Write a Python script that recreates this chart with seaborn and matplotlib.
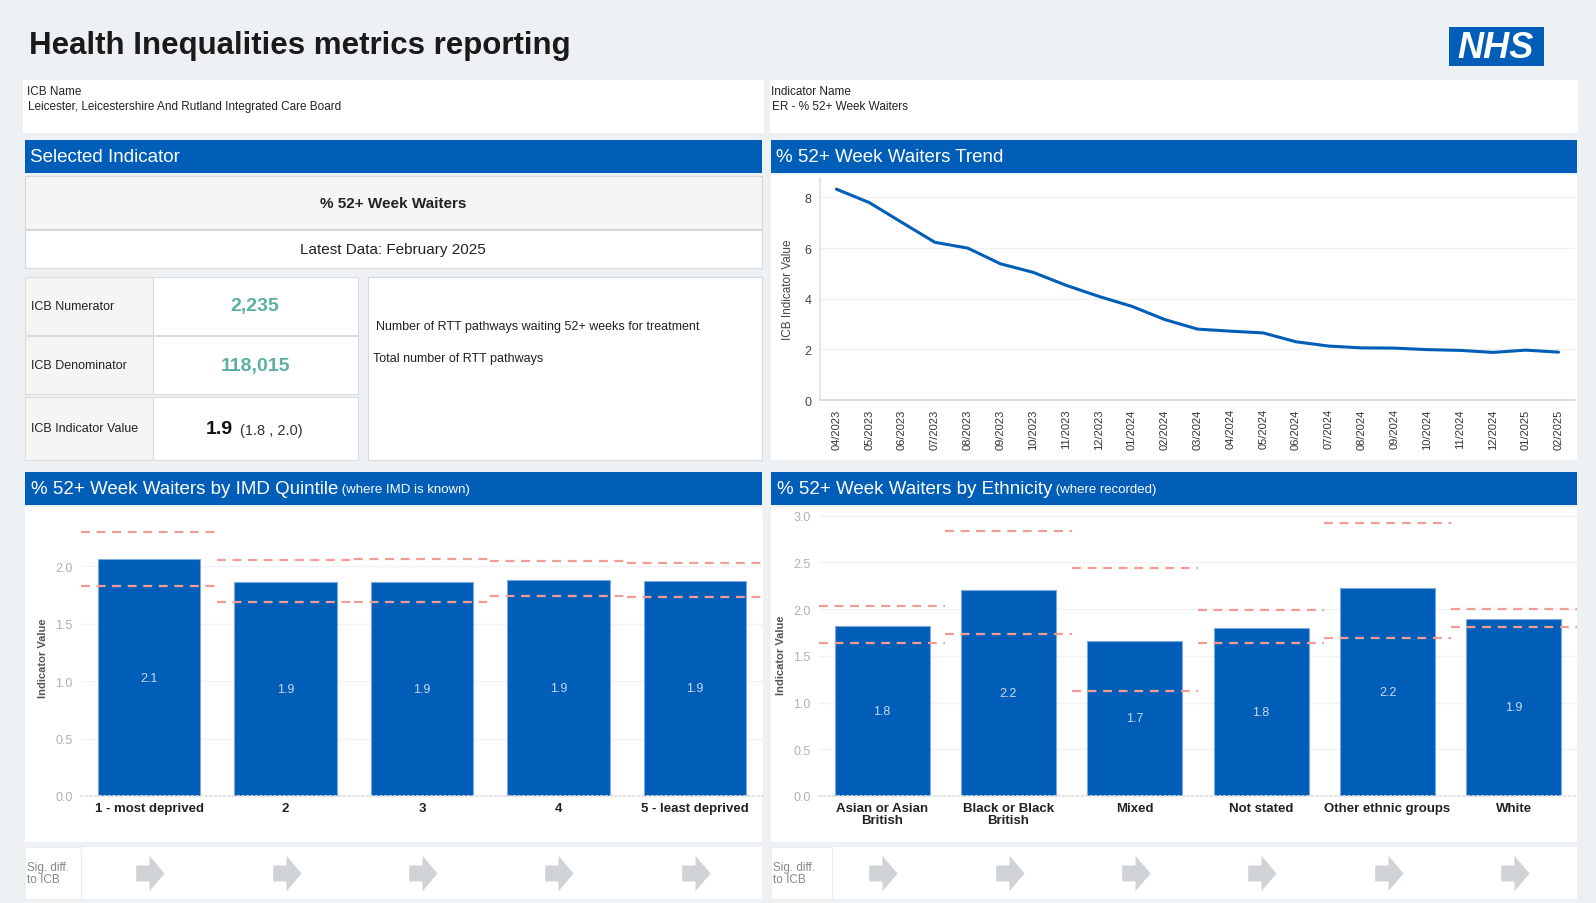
import numpy as np
import pandas as pd
import matplotlib
matplotlib.use('Agg')
import matplotlib.pyplot as plt
from matplotlib.patches import Rectangle
from matplotlib.path import Path
from matplotlib.text import Annotation
import seaborn as sns

# ---- data ----
months = ['04/2023', '05/2023', '06/2023', '07/2023', '08/2023', '09/2023', '10/2023',
          '11/2023', '12/2023', '01/2024', '02/2024', '03/2024', '04/2024', '05/2024',
          '06/2024', '07/2024', '08/2024', '09/2024', '10/2024', '11/2024', '12/2024',
          '01/2025', '02/2025']
trend_values = [8.33, 7.80, 7.01, 6.23, 6.00, 5.38, 5.04, 4.53, 4.09, 3.70, 3.18, 2.80,
                2.72, 2.65, 2.30, 2.13, 2.06, 2.05, 1.99, 1.96, 1.88, 1.97, 1.89]

imd_groups = ['1 - most deprived', '2', '3', '4', '5 - least deprived']
imd_values = [2.06, 1.865, 1.865, 1.88, 1.875]
imd_lower = [1.83, 1.686, 1.686, 1.74, 1.73]
imd_upper = [2.30, 2.056, 2.06, 2.05, 2.03]

eth_groups = ['Asian or Asian British', 'Black or Black British', 'Mixed', 'Not stated',
              'Other ethnic groups', 'White']
eth_ticklabels = ['Asian or Asian\nBritish', 'Black or Black\nBritish', 'Mixed', 'Not stated',
                  'Other ethnic groups', 'White']
eth_values = [1.82, 2.21, 1.66, 1.80, 2.23, 1.90]
eth_lower = [1.64, 1.73, 1.125, 1.64, 1.69, 1.81]
eth_upper = [2.03, 2.84, 2.44, 1.99, 2.92, 2.00]

icb_name = 'Leicester, Leicestershire And Rutland Integrated Care Board'
indicator_name = 'ER - % 52+ Week Waiters'
numerator = '2,235'
denominator = '118,015'
icb_value = '1.9'
icb_ci = '(1.8 , 2.0)'

# ---- style ----
sns.set_theme(style='white')
plt.rcParams['font.family'] = ['Liberation Sans', 'DejaVu Sans']

BLUE = '#005EB8'
BG = '#eef1f3'
TEAL = '#5cb0a2'
RED = '#f29c97'
GREY_ARROW = '#cfd3d6'

W, H = 1596, 904
fig = plt.figure(figsize=(W / 100, H / 100), dpi=100)
fig.patch.set_facecolor(BG)


def box(x0, y0, x1, y1, color='white', edge='none'):
    fig.add_artist(Rectangle((x0 / W, 1 - y1 / H), (x1 - x0) / W, (y1 - y0) / H,
                             transform=fig.transFigure, facecolor=color,
                             edgecolor=edge, linewidth=0.8, zorder=-2))


def ftext(x, y, s, **kw):
    return fig.text(x / W, 1 - y / H, s, **kw)


def axes_px(x0, y0, x1, y1):
    return fig.add_axes([x0 / W, 1 - y1 / H, (x1 - x0) / W, (y1 - y0) / H])


# ---- header ----
ftext(29, 46, 'Health Inequalities metrics reporting', fontsize=22.5, fontweight='bold',
      color='#1a1a1a', va='center')
box(1449, 28, 1544, 67, BLUE)
ftext(1496, 48, 'NHS', fontsize=26, fontweight='bold', fontstyle='italic', color='white',
      ha='center', va='center')

box(23, 81, 764, 134)
ftext(27, 92, 'ICB Name', fontsize=8.5, color='#222', va='center')
ftext(28, 107, icb_name, fontsize=8.5, color='#222', va='center')
box(770, 81, 1578, 134)
ftext(771, 92, 'Indicator Name', fontsize=8.5, color='#222', va='center')
ftext(772, 107, indicator_name, fontsize=8.5, color='#222', va='center')

# ---- section headers ----
box(25, 141, 762, 174, BLUE)
ftext(30, 157.5, 'Selected Indicator', fontsize=13.5, color='white', va='center')
box(771, 141, 1577, 174, BLUE)
ftext(776, 157.5, '% 52+ Week Waiters Trend', fontsize=13.5, color='white', va='center')

for x0, x1, title, sub in [(25, 762, '% 52+ Week Waiters by IMD Quintile', '(where IMD is known)'),
                           (771, 1577, '% 52+ Week Waiters by Ethnicity', '(where recorded)')]:
    box(x0, 473, x1, 506, BLUE)
    t = ftext(x0 + 6, 490, title, fontsize=13.5, color='white', va='center')
    fig.add_artist(Annotation(' ' + sub, xy=(1, 0.5), xycoords=t, va='center', ha='left',
                              fontsize=9.5, color='white'))

# ---- selected indicator panel ----
box(25, 177, 762, 230, '#f6f5f3', '#d8d8d8')
ftext(393, 204, '% 52+ Week Waiters', fontsize=11, fontweight='bold', color='#222',
      ha='center', va='center')
box(25, 231, 762, 269, 'white', '#d8d8d8')
ftext(393, 250, 'Latest Data: February 2025', fontsize=11, color='#222', ha='center',
      va='center')

rows = [(278, 336, 'ICB Numerator'), (337, 395, 'ICB Denominator'),
        (398, 461, 'ICB Indicator Value')]
for y0, y1, lab in rows:
    box(25, y0, 153, y1, '#f6f5f3', '#dcdcdc')
    box(153, y0, 358, y1, 'white', '#dcdcdc')
    ftext(31, (y0 + y1) / 2, lab, fontsize=9, color='#222', va='center')
ftext(255, 307, numerator, fontsize=14, fontweight='bold', color=TEAL, ha='center',
      va='center')
ftext(256, 366, denominator, fontsize=14, fontweight='bold', color=TEAL, ha='center',
      va='center')
ftext(233, 430, icb_value, fontsize=14, fontweight='bold', color='#111', ha='right',
      va='center')
ftext(240, 431, icb_ci, fontsize=10.5, color='#333', ha='left', va='center')

box(368, 278, 762, 461, 'white', '#d8d8d8')
ftext(376, 327, 'Number of RTT pathways waiting 52+ weeks for treatment', fontsize=9,
      color='#222', va='center')
ftext(373, 359, 'Total number of RTT pathways', fontsize=9, color='#222', va='center')

# ---- trend chart ----
box(771, 176, 1577, 461)
ax = axes_px(820, 179, 1575, 401)
ax.set_facecolor('white')
trend = pd.DataFrame({'month': months, 'value': trend_values})
trend['pos'] = np.arange(len(trend))
sns.lineplot(data=trend, x='pos', y='value', color=BLUE, linewidth=2.2, ax=ax)
ax.set_xlim(-0.5, len(months) - 0.5)
ax.set_ylim(0, 8.77)
ax.set_yticks([0, 2, 4, 6, 8])
ax.set_xticks(trend['pos'])
ax.set_xticklabels(months, rotation=90, fontsize=8, color='#333')
ax.tick_params(axis='y', labelsize=9, colors='#444', length=0, pad=6)
ax.tick_params(axis='x', length=0, pad=6)
ax.set_xlabel('')
ax.set_ylabel('ICB Indicator Value', fontsize=8.5, color='#444', labelpad=8)
ax.grid(axis='y', color='#f0f0f0', linewidth=1)
for s in ['top', 'right']:
    ax.spines[s].set_visible(False)
ax.spines['left'].set_color('#e3e3e3')
ax.spines['bottom'].set_color('#d6d6d6')


# ---- bar charts ----
def bar_panel(x0, x1, ax_x0, ax_x1, ax_top, ylim, yticks, groups, ticklabels, values,
              lower, upper, ylabel_x):
    box(x0, 508, x1, 843)
    bax = axes_px(ax_x0, ax_top, ax_x1, 797)
    df = pd.DataFrame({'group': groups, 'value': values})
    sns.barplot(data=df, x='group', y='value', color=BLUE, width=0.75, saturation=1,
                errorbar=None, ax=bax)
    for p in bax.patches:
        p.set_edgecolor('#7fa9dc')
        p.set_linewidth(0.8)
    for i, v in enumerate(values):
        bax.text(i, v / 2, f'{v:.1f}', ha='center', va='center', fontsize=9,
                 color='#c9d8ee')
    pos = np.arange(len(groups))
    bax.hlines(lower, pos - 0.5, pos + 0.5, colors=RED, linestyles=(0, (4, 3)),
               linewidth=1.6)
    bax.hlines(upper, pos - 0.5, pos + 0.5, colors=RED, linestyles=(0, (4, 3)),
               linewidth=1.6)
    bax.set_xlim(-0.5, len(groups) - 0.5)
    bax.set_ylim(*ylim)
    bax.set_yticks(yticks)
    bax.set_yticklabels([f'{t:.1f}' for t in yticks])
    bax.set_xticks(pos)
    bax.set_xticklabels(ticklabels, fontsize=9.5, fontweight='bold', color='#222',
                        linespacing=1.1)
    bax.tick_params(axis='y', labelsize=9, colors='#b0b0b0', length=0, pad=6)
    bax.tick_params(axis='x', length=0, pad=4)
    bax.set_xlabel('')
    bax.set_ylabel('')
    bax.grid(axis='y', color='#f3f3f3', linewidth=1)
    bax.set_axisbelow(True)
    for s in ['top', 'right', 'left']:
        bax.spines[s].set_visible(False)
    bax.spines['bottom'].set_color('#e0e0e0')
    bax.spines['bottom'].set_linestyle(':')
    ftext(ylabel_x, (ax_top + 797) / 2, 'Indicator Value', fontsize=8, fontweight='bold',
          color='#555', rotation=90, ha='center', va='center')
    return bax


bar_panel(25, 762, 81, 763, 519, (0, 2.42), [0, 0.5, 1.0, 1.5, 2.0], imd_groups,
          imd_groups, imd_values, imd_lower, imd_upper, 43)
bar_panel(771, 1577, 819, 1577, 513, (0, 3.04), [0, 0.5, 1.0, 1.5, 2.0, 2.5, 3.0],
          eth_groups, eth_ticklabels, eth_values, eth_lower, eth_upper, 781)

# ---- significance strips ----
arrow = Path([(-0.75, -0.45), (0.0, -0.45), (0.0, -1.0), (0.85, 0.0), (0.0, 1.0),
              (0.0, 0.45), (-0.75, 0.45), (-0.75, -0.45)])
for x0, lab_x1, ax_x0, ax_x1, x1, groups in [(25, 81, 81, 763, 762, imd_groups),
                                              (771, 832, 819, 1577, 1577, eth_groups)]:
    box(x0, 848, x1, 900)
    box(x0, 848, lab_x1, 900, 'white', '#eeeeee')
    ftext(x0 + 2, 874, 'Sig. diff.\nto ICB', fontsize=8.5, color='#888', va='center',
          linespacing=1.0)
    sax = axes_px(ax_x0, 850, ax_x1, 898)
    sax.set_facecolor('none')
    sax.scatter(range(len(groups)), [0] * len(groups), marker=arrow, s=650,
                color=GREY_ARROW, linewidths=0)
    sax.set_xlim(-0.5, len(groups) - 0.5)
    sax.set_ylim(-1, 1)
    sax.axis('off')

fig.savefig('out.png', dpi=100, facecolor=BG)
